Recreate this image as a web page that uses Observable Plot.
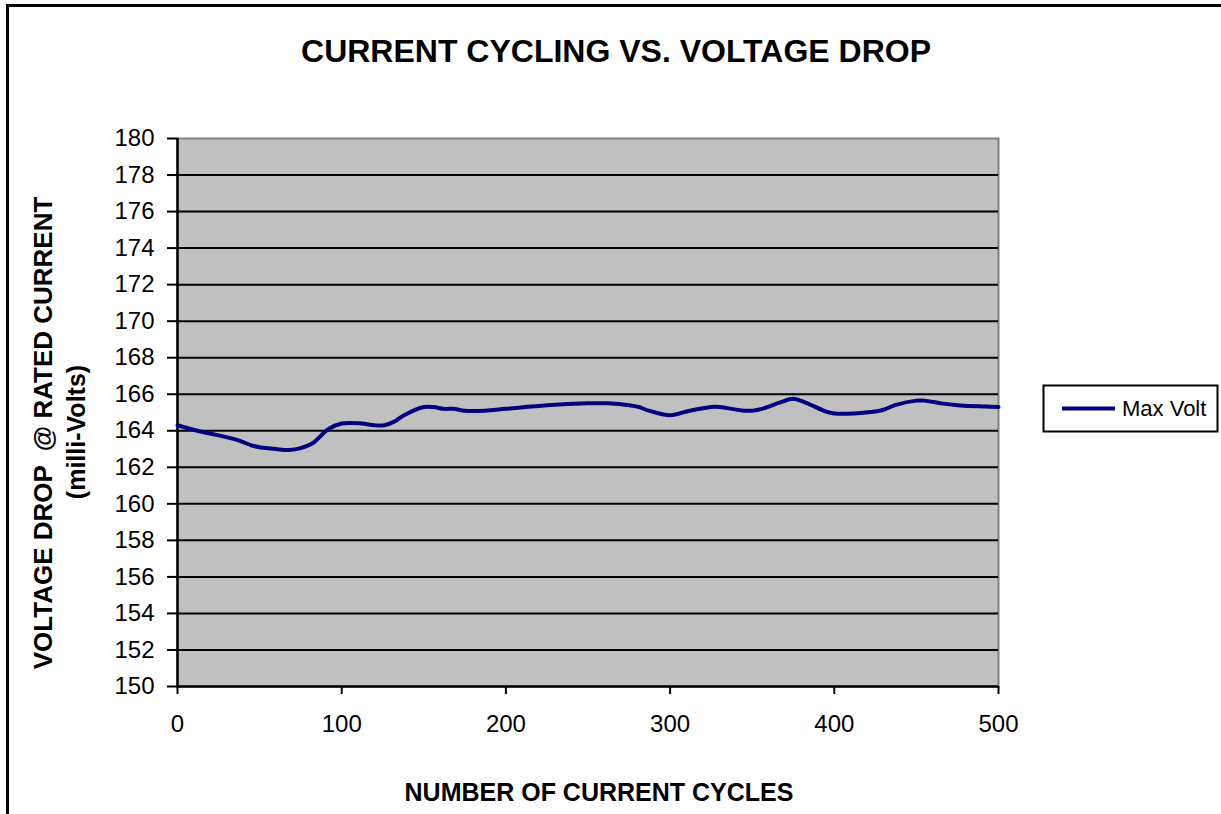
<!DOCTYPE html>
<html>
<head>
<meta charset="utf-8">
<script src="https://cdn.jsdelivr.net/npm/d3@7"></script>
<script src="https://cdn.jsdelivr.net/npm/@observablehq/plot@0.6"></script>
<style>
  html, body { margin: 0; padding: 0; background: #fff; }
  svg { display: block; }
</style>
</head>
<body>
<div id="chart"></div>
<script>
const cycles = [0, 12, 25, 38, 45, 50, 60, 68, 75, 82, 92, 100, 112, 120, 126, 132, 138, 150, 156, 162, 168, 175, 187, 200, 225, 250, 262, 275, 281, 287, 300, 312, 325, 330, 345, 350, 356, 367, 375, 381, 395, 400, 412, 425, 430, 437, 450, 455, 465, 475, 500];
const maxVolt = [164.3, 164.0, 163.75, 163.45, 163.2, 163.1, 163.0, 162.95, 163.05, 163.3, 164.1, 164.4, 164.4, 164.3, 164.3, 164.5, 164.85, 165.3, 165.3, 165.2, 165.2, 165.1, 165.1, 165.2, 165.4, 165.5, 165.5, 165.4, 165.3, 165.1, 164.85, 165.1, 165.3, 165.3, 165.1, 165.1, 165.2, 165.55, 165.75, 165.6, 165.05, 164.95, 164.95, 165.05, 165.15, 165.4, 165.65, 165.65, 165.5, 165.4, 165.3];
const xTicks = [0, 100, 200, 300, 400, 500];
const yTicks = [150, 152, 154, 156, 158, 160, 162, 164, 166, 168, 170, 172, 174, 176, 178, 180];
const seriesName = "Max Volt";
const titleText = "CURRENT CYCLING VS. VOLTAGE DROP";
const yTitle1 = "VOLTAGE DROP  @ RATED CURRENT";
const yTitle2 = "(milli-Volts)";
const xTitle = "NUMBER OF CURRENT CYCLES";

const data = cycles.map((c, i) => ({cycle: c, volt: maxVolt[i]}));
const W = 1221, H = 814;
const ml = 177, mr = W - 998, mt = 138, mb = H - 686;
const lineColor = "#000080";

const chart = Plot.plot({
  width: W,
  height: H,
  marginLeft: ml,
  marginRight: mr,
  marginTop: mt,
  marginBottom: mb,
  style: {fontFamily: "'Liberation Sans', Arial, sans-serif", fontSize: "24px", color: "#000", background: "#fff"},
  x: {domain: [0, 500], ticks: xTicks, label: null},
  y: {domain: [150, 180], ticks: yTicks, label: null},
  marks: [
    Plot.frame({fill: "#c0c0c0", stroke: "#808080", strokeWidth: 2}),
    Plot.gridY(yTicks.filter(t => t !== 150 && t !== 180), {stroke: "#000", strokeOpacity: 1, strokeWidth: 2}),
    Plot.ruleX([0], {stroke: "#000", strokeWidth: 2.5}),
    Plot.ruleY([150], {stroke: "#000", strokeWidth: 2.5}),
    Plot.axisX(xTicks, {tickSize: 8, tickPadding: 20, stroke: "#000", strokeWidth: 2, fontSize: 24, fill: "#000"}),
    Plot.axisY(yTicks, {tickSize: 10, tickPadding: 13, stroke: "#000", strokeWidth: 2, fontSize: 24, fill: "#000"}),
    Plot.line(data, {x: "cycle", y: "volt", stroke: lineColor, strokeWidth: 4, curve: "catmull-rom"})
  ]
});

const svg = d3.select(chart);
// outer chart-area frame
svg.append("line").attr("x1", 7.5).attr("x2", 7.5).attr("y1", 4).attr("y2", H).attr("stroke", "#000").attr("stroke-width", 3);
svg.append("line").attr("x1", 6).attr("x2", W).attr("y1", 5.5).attr("y2", 5.5).attr("stroke", "#000").attr("stroke-width", 3);

const ff = "'Liberation Sans', Arial, sans-serif";
svg.append("text").attr("x", 616).attr("y", 62).attr("text-anchor", "middle")
  .attr("font-family", ff).attr("font-size", 32).attr("font-weight", "bold").text(titleText);
svg.append("text").attr("x", 599).attr("y", 801).attr("text-anchor", "middle")
  .attr("font-family", ff).attr("font-size", 25).attr("font-weight", "bold").text(xTitle);
svg.append("text").attr("transform", "translate(52,433) rotate(-90)").attr("text-anchor", "middle")
  .attr("font-family", ff).attr("font-size", 26).attr("font-weight", "bold").text(yTitle1);
svg.append("text").attr("transform", "translate(85,432) rotate(-90)").attr("text-anchor", "middle")
  .attr("font-family", ff).attr("font-size", 25).attr("font-weight", "bold").text(yTitle2);

// legend
const lg = svg.append("g");
lg.append("rect").attr("x", 1043.5).attr("y", 385.5).attr("width", 174).attr("height", 46)
  .attr("fill", "#fff").attr("stroke", "#000").attr("stroke-width", 2);
lg.append("line").attr("x1", 1062).attr("x2", 1115).attr("y1", 408.5).attr("y2", 408.5)
  .attr("stroke", lineColor).attr("stroke-width", 4);
lg.append("text").attr("x", 1122).attr("y", 416).attr("text-anchor", "start")
  .attr("font-family", ff).attr("font-size", 22).text(seriesName);

document.getElementById("chart").appendChild(chart);
</script>
</body>
</html>
